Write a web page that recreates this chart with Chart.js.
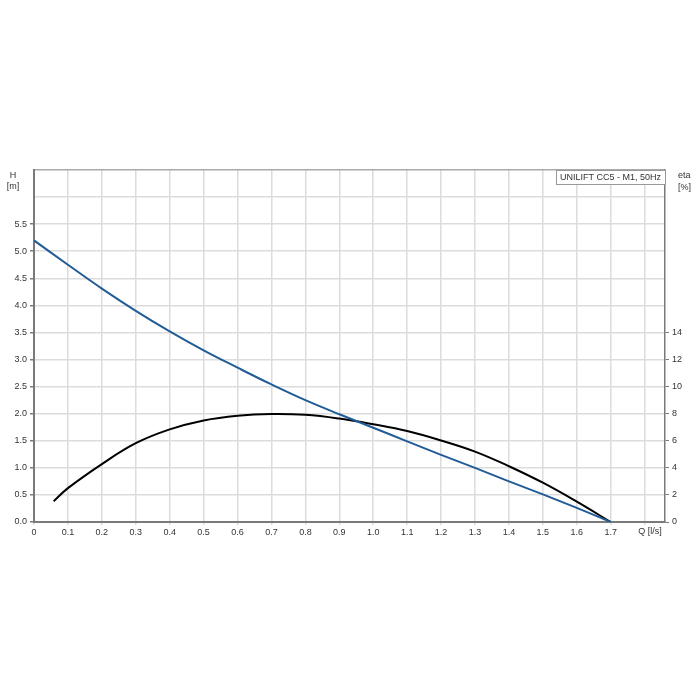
<!DOCTYPE html>
<html>
<head>
<meta charset="utf-8">
<script src="https://cdn.jsdelivr.net/npm/chart.js@4"></script>
<style>
  html, body { margin: 0; padding: 0; background: #fff; }
  #wrap { width: 700px; height: 700px; }
</style>
</head>
<body>
<div id="wrap"><canvas id="pump" width="700" height="700"></canvas></div>
<script>
// ── Data ────────────────────────────────────────────────────────────
const headQ   = [0, 0.1, 0.2, 0.3, 0.4, 0.5, 0.6, 0.7, 0.8, 0.9, 1.0, 1.1, 1.2, 1.3, 1.4, 1.5, 1.6, 1.7];
const headH   = [5.2, 4.75, 4.31, 3.90, 3.52, 3.17, 2.85, 2.54, 2.25, 1.99, 1.74, 1.49, 1.24, 1.00, 0.75, 0.51, 0.26, 0];
const etaQ    = [0.058, 0.1, 0.2, 0.3, 0.4, 0.5, 0.6, 0.7, 0.8, 0.9, 1.0, 1.1, 1.2, 1.3, 1.4, 1.5, 1.6, 1.7];
const etaPct  = [1.53, 2.5, 4.28, 5.82, 6.84, 7.5, 7.85, 7.98, 7.92, 7.64, 7.22, 6.72, 6.02, 5.2, 4.12, 2.9, 1.5, 0];
const hLabelMax = 5.5;   // last labelled H tick
const etaLabelMax = 14;  // last labelled eta tick
const legendText = 'UNILIFT CC5 - M1, 50Hz';

// ── Defaults ────────────────────────────────────────────────────────
Chart.defaults.font.family = "'Liberation Sans', Arial, sans-serif";
Chart.defaults.font.size = 9;
Chart.defaults.color = '#333';

const GRID = '#dcdcdc';
const AXIS = '#7a7a7a';

// axis titles and the legend box
const sheetText = {
  id: 'sheetText',
  afterDraw(chart) {
    const { ctx, chartArea: a } = chart;
    ctx.save();
    ctx.font = "9px 'Liberation Sans', Arial, sans-serif";
    ctx.fillStyle = '#333';
    ctx.textBaseline = 'middle';
    ctx.textAlign = 'center';
    ctx.fillText('H', 13, 176);
    ctx.fillText('[m]', 13, 187);
    ctx.textAlign = 'left';
    ctx.fillText('eta', 678, 176);
    ctx.fillText('[%]', 678, 188);
    ctx.textAlign = 'center';
    ctx.fillText('Q [l/s]', 650, a.bottom + 10);

    // legend box, top right inside the plot
    const w = ctx.measureText(legendText).width + 8;
    const x0 = a.right - w, y0 = a.top;
    ctx.fillStyle = '#fff';
    ctx.fillRect(x0, y0, w, 14);
    ctx.strokeStyle = '#999';
    ctx.lineWidth = 1;
    ctx.strokeRect(x0 + 0.5, y0 + 0.5, w, 14);
    ctx.fillStyle = '#333';
    ctx.textAlign = 'left';
    ctx.fillText(legendText, x0 + 4, y0 + 7.5);
    ctx.restore();
  },
};

new Chart(document.getElementById('pump').getContext('2d'), {
  type: 'line',
  data: {
    datasets: [
      {
        data: headQ.map((q, i) => ({ x: q, y: headH[i] })),
        borderColor: '#215c97',
        borderWidth: 2,
        pointRadius: 0,
        tension: 0.4,
        yAxisID: 'y',
      },
      {
        data: etaQ.map((q, i) => ({ x: q, y: etaPct[i] })),
        borderColor: '#000',
        borderWidth: 2,
        pointRadius: 0,
        tension: 0.4,
        yAxisID: 'y2',
      },
    ],
  },
  options: {
    responsive: false,
    animation: false,
    layout: { padding: { top: 170, left: 0, right: 0, bottom: 158 } },
    plugins: { legend: { display: false }, tooltip: { enabled: false } },
    scales: {
      x: {
        type: 'linear',
        min: 0,
        max: 1.86,
        afterFit: (s) => { s.height = 20; },
        ticks: {
          stepSize: 0.1,
          includeBounds: false,
          maxRotation: 0,
          autoSkip: false,
          padding: 2,
          callback: (v) => (v > 1.75 ? '' : v === 0 ? '0' : v.toFixed(1)),
        },
        grid: { color: GRID, lineWidth: 1.5, tickLength: 3, tickColor: GRID },
        border: { color: AXIS, width: 2 },
      },
      y: {
        min: 0,
        max: 6.5,
        afterFit: (s) => { s.width = 34; },
        ticks: {
          stepSize: 0.5,
          padding: 3,
          autoSkip: false,
          callback: (v) => (v > hLabelMax ? '' : v.toFixed(1)),
        },
        grid: {
          color: (c) => (c.tick && c.tick.value === 6.5 ? '#aaa' : GRID),
          lineWidth: 1.5,
          tickLength: 4,
          tickColor: (c) => (c.tick && c.tick.value > hLabelMax ? 'transparent' : AXIS),
        },
        border: { color: AXIS, width: 2 },
      },
      y2: {
        position: 'right',
        min: 0,
        max: 26,
        afterFit: (s) => { s.width = 35; },
        ticks: {
          stepSize: 2,
          padding: 3,
          autoSkip: false,
          callback: (v) => (v > etaLabelMax ? '' : String(v)),
        },
        grid: {
          drawOnChartArea: false,
          tickLength: 4,
          tickColor: (c) => (c.tick && c.tick.value > etaLabelMax ? 'transparent' : AXIS),
        },
        border: { color: AXIS, width: 1.5 },
      },
    },
  },
  plugins: [sheetText],
});
</script>
</body>
</html>
